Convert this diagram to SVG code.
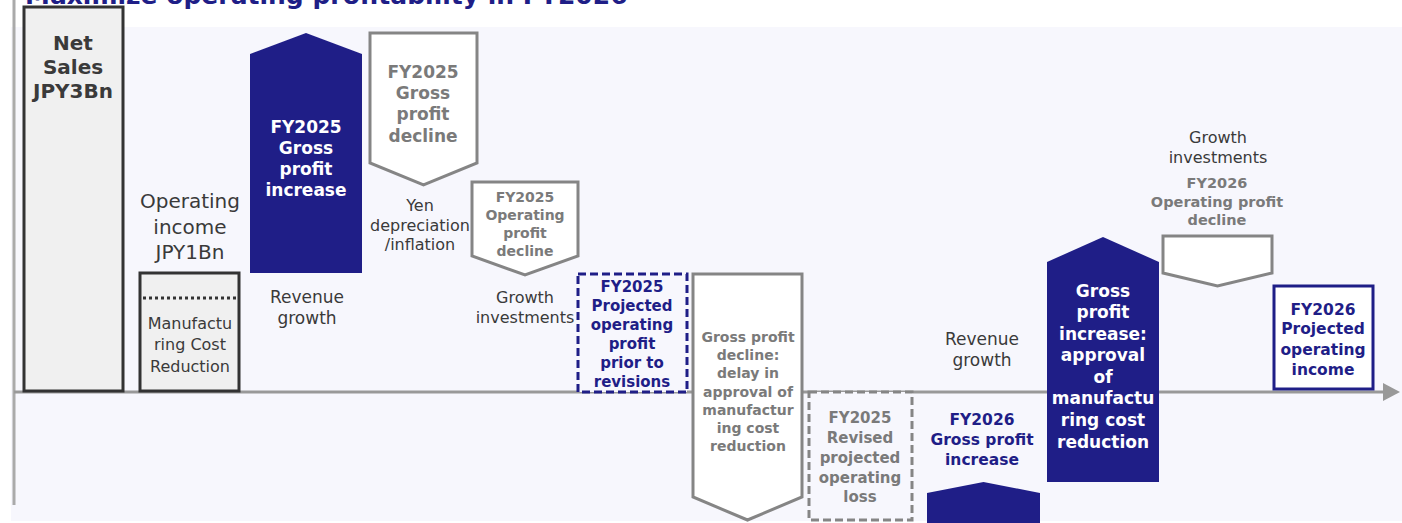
<svg xmlns="http://www.w3.org/2000/svg" width="1402" height="523" viewBox="0 0 1402 523">
<style>
text{font-family:"DejaVu Sans","Verdana",sans-serif;text-anchor:middle}
.b{font-weight:bold}
.dk{fill:#3a3a3a}
.gr{fill:#7a7a7a}
.bl{fill:#1f1e87}
.wh{fill:#ffffff}
.gshape{fill:#ffffff;stroke:#858585;stroke-width:3}
.bshape{fill:#1f1e87}
</style>
<rect x="0" y="0" width="1402" height="523" fill="#ffffff"/>
<rect x="11" y="27" width="1391" height="494" fill="#f7f7fd"/>
<text x="25" y="4" class="b bl" style="text-anchor:start;font-size:25px">Maximize operating profitability in FY2026</text>
<line x1="14" y1="0" x2="14" y2="505" stroke="#aaaaaa" stroke-width="3"/>

<g id="connectors">
<line x1="14" y1="392" x2="1386" y2="392" stroke="#999999" stroke-width="3"/>
<polygon points="1383,383 1400,392 1383,401" fill="#999999"/>
</g>

<g id="net-sales">
<rect x="24" y="7" width="99" height="384" fill="#f0f0f0" stroke="#333333" stroke-width="3"/>
<text class="b dk" style="font-size:20px"><tspan x="73" y="50">Net</tspan><tspan x="73" y="74">Sales</tspan><tspan x="73" y="98">JPY3Bn</tspan></text>
</g>

<g id="operating-income">
<text class="dk" style="font-size:20px"><tspan x="190" y="208">Operating</tspan><tspan x="190" y="234">income</tspan><tspan x="190" y="259">JPY1Bn</tspan></text>
<rect x="140" y="273" width="99" height="118" fill="#f0f0f0" stroke="#333333" stroke-width="3"/>
<line x1="143" y1="298" x2="236" y2="298" stroke="#333333" stroke-width="3" stroke-dasharray="3,3"/>
<text class="dk" style="font-size:16px"><tspan x="190" y="329">Manufactu</tspan><tspan x="190" y="350">ring Cost</tspan><tspan x="190" y="372">Reduction</tspan></text>
</g>

<g id="fy2025-gross-increase">
<path class="bshape" d="M250,54 L306,33 L362,54 L362,273 L250,273 Z"/>
<text class="b wh" style="font-size:17px"><tspan x="306" y="133">FY2025</tspan><tspan x="306" y="154">Gross</tspan><tspan x="306" y="175">profit</tspan><tspan x="306" y="196">increase</tspan></text>
<text class="dk" style="font-size:17px"><tspan x="307" y="303">Revenue</tspan><tspan x="307" y="324">growth</tspan></text>
</g>

<g id="fy2025-gross-decline">
<path class="gshape" d="M370,33 L477,33 L477,163 L423.5,185 L370,163 Z"/>
<text class="b gr" style="font-size:17px"><tspan x="423" y="78">FY2025</tspan><tspan x="423" y="99">Gross</tspan><tspan x="423" y="120">profit</tspan><tspan x="423" y="142">decline</tspan></text>
<text class="dk" style="font-size:16px"><tspan x="420" y="211">Yen</tspan><tspan x="420" y="231">depreciation</tspan><tspan x="420" y="250">/inflation</tspan></text>
</g>

<g id="fy2025-op-decline">
<path class="gshape" d="M472,182 L578,182 L578,256 L525,275 L472,256 Z"/>
<text class="b gr" style="font-size:14px"><tspan x="525" y="202">FY2025</tspan><tspan x="525" y="220">Operating</tspan><tspan x="525" y="238">profit</tspan><tspan x="525" y="256">decline</tspan></text>
<text class="dk" style="font-size:16px"><tspan x="525" y="303">Growth</tspan><tspan x="525" y="323">investments</tspan></text>
</g>

<g id="fy2025-projected-prior">
<rect x="578" y="274" width="109" height="118" fill="#f7f7fd" stroke="#1f1e87" stroke-width="3" stroke-dasharray="8,4"/>
<text class="b bl" style="font-size:15px"><tspan x="632" y="292">FY2025</tspan><tspan x="632" y="311">Projected</tspan><tspan x="632" y="330">operating</tspan><tspan x="632" y="349">profit</tspan><tspan x="632" y="368">prior to</tspan><tspan x="632" y="387">revisions</tspan></text>
</g>

<g id="gross-decline-delay">
<path class="gshape" d="M693,274 L802,274 L802,497 L747.5,520 L693,497 Z"/>
<text class="b gr" style="font-size:14px"><tspan x="748" y="342">Gross profit</tspan><tspan x="748" y="360">decline:</tspan><tspan x="748" y="378">delay in</tspan><tspan x="748" y="397">approval of</tspan><tspan x="748" y="415">manufactur</tspan><tspan x="748" y="433">ing cost</tspan><tspan x="748" y="451">reduction</tspan></text>
</g>

<g id="fy2025-revised-loss">
<rect x="809" y="392" width="103" height="128" fill="#f7f7fd" stroke="#858585" stroke-width="3" stroke-dasharray="8,4"/>
<text class="b gr" style="font-size:15px"><tspan x="860" y="423">FY2025</tspan><tspan x="860" y="443">Revised</tspan><tspan x="860" y="463">projected</tspan><tspan x="860" y="483">operating</tspan><tspan x="860" y="502">loss</tspan></text>
</g>

<g id="fy2026-gross-increase">
<text class="dk" style="font-size:17px"><tspan x="982" y="345">Revenue</tspan><tspan x="982" y="366">growth</tspan></text>
<text class="b bl" style="font-size:15.5px"><tspan x="982" y="425">FY2026</tspan><tspan x="982" y="445">Gross profit</tspan><tspan x="982" y="465">increase</tspan></text>
<path class="bshape" d="M927,493 L983.5,482 L1040,493 L1040,523 L927,523 Z"/>
</g>

<g id="gross-increase-approval">
<path class="bshape" d="M1047,262 L1103,237 L1159,262 L1159,482 L1047,482 Z"/>
<text class="b wh" style="font-size:17px"><tspan x="1103" y="297">Gross</tspan><tspan x="1103" y="318">profit</tspan><tspan x="1103" y="340">increase:</tspan><tspan x="1103" y="361">approval</tspan><tspan x="1103" y="383">of</tspan><tspan x="1103" y="404">manufactu</tspan><tspan x="1103" y="426">ring cost</tspan><tspan x="1103" y="448">reduction</tspan></text>
</g>

<g id="fy2026-op-decline">
<text class="dk" style="font-size:16px"><tspan x="1218" y="143">Growth</tspan><tspan x="1218" y="163">investments</tspan></text>
<text class="b gr" style="font-size:14.5px"><tspan x="1217" y="188">FY2026</tspan><tspan x="1217" y="207">Operating profit</tspan><tspan x="1217" y="225">decline</tspan></text>
<path class="gshape" d="M1163,236 L1272,236 L1272,273 L1217.5,286 L1163,273 Z"/>
</g>

<g id="fy2026-projected">
<rect x="1274" y="286" width="99" height="103" fill="#ffffff" stroke="#1f1e87" stroke-width="3"/>
<text class="b bl" style="font-size:15.5px"><tspan x="1323" y="315">FY2026</tspan><tspan x="1323" y="334">Projected</tspan><tspan x="1323" y="355">operating</tspan><tspan x="1323" y="375">income</tspan></text>
</g>
</svg>
